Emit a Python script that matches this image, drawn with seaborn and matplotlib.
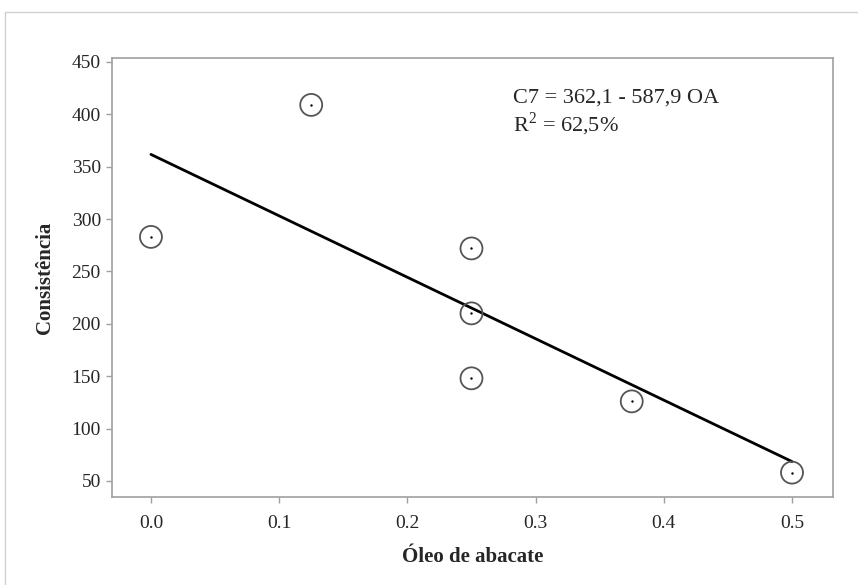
import numpy as np
import pandas as pd
import seaborn as sns
import matplotlib.pyplot as plt
from matplotlib.lines import Line2D

# data
oleo = [0.0, 0.125, 0.25, 0.25, 0.25, 0.375, 0.5]
consistencia = [283, 409, 272, 210, 148, 126, 58]
x_ticks = [0.0, 0.1, 0.2, 0.3, 0.4, 0.5]
y_ticks = [50, 100, 150, 200, 250, 300, 350, 400, 450]
equacao = "C7 = 362,1 - 587,9 OA"
r2_texto = "R$^{2}$ = 62,5%"

df = pd.DataFrame({"Óleo de abacate": oleo, "Consistência": consistencia})

sns.set_style("white")
plt.rcParams["font.family"] = ["Liberation Serif", "DejaVu Serif"]
plt.rcParams["mathtext.fontset"] = "custom"
plt.rcParams["mathtext.rm"] = "Liberation Serif"

fig = plt.figure(figsize=(8.58, 5.85), dpi=100)
ax = fig.add_axes([0.1305, 0.1504, 0.8404, 0.7505])

# outer frame (minitab style)
fig.add_artist(Line2D([5 / 858, 5 / 858], [0, 1 - 12 / 585], color="#d0d0d0", lw=1))
fig.add_artist(Line2D([5 / 858, 1], [1 - 12 / 585, 1 - 12 / 585], color="#d0d0d0", lw=1))

# fitted line
sns.regplot(data=df, x="Óleo de abacate", y="Consistência", ci=None, scatter=False,
            truncate=True, color="black", line_kws={"lw": 2.0}, ax=ax)

# open circles with a dot in the centre
sns.scatterplot(data=df, x="Óleo de abacate", y="Consistência", marker="o", s=250,
                facecolor="none", edgecolor="#555555", linewidth=1.3, ax=ax, zorder=3)
sns.scatterplot(data=df, x="Óleo de abacate", y="Consistência", marker="o", s=3,
                color="black", linewidth=0, ax=ax, zorder=4)

ax.set_xlim(-0.0304, 0.532)
ax.set_ylim(34.7, 453.8)
ax.set_xticks(x_ticks)
ax.set_xticklabels([f"{v:.1f}" for v in x_ticks])
ax.set_yticks(y_ticks)

for sp in ax.spines.values():
    sp.set_color("#a0a0a0")
    sp.set_linewidth(1.2)
ax.tick_params(axis="both", direction="out", length=4, width=1, color="#a0a0a0",
               labelsize=14, bottom=True, left=True)
ax.tick_params(axis="x", pad=9)
ax.tick_params(axis="y", pad=4)

ax.set_xlabel("Óleo de abacate", fontsize=15, fontweight="bold", labelpad=11)
ax.set_ylabel("Consistência", fontsize=15, fontweight="bold", labelpad=12)

ax.text(0.556, 0.93, equacao, transform=ax.transAxes, fontsize=16, va="top", ha="left")
ax.text(0.556, 0.88, r2_texto, transform=ax.transAxes, fontsize=16, va="top", ha="left")

fig.savefig("out.png", dpi=100)
